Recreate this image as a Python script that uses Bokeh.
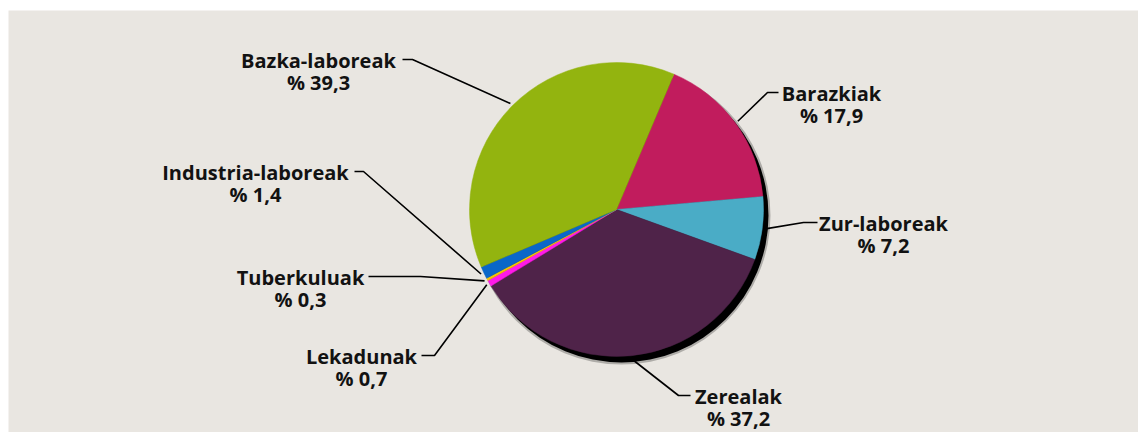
import numpy as np
from bokeh.plotting import figure
from bokeh.models import Range1d
from bokeh.core.properties import value
from bokeh.embed import file_html
from bokeh.resources import INLINE

# ---- data (clockwise order starting at the top-right boundary) ----
categories = ["Barazkiak", "Zur-laboreak", "Zerealak", "Lekadunak",
              "Tuberkuluak", "Industria-laboreak", "Bazka-laboreak"]
values = [17.9, 7.2, 37.2, 0.7, 0.3, 1.4, 39.3]
pct_labels = ["% 17,9", "% 7,2", "% 37,2", "% 0,7", "% 0,3", "% 1,4", "% 39,3"]
colors = ["#c11c5d", "#4aacc6", "#4f2349", "#ff1ae8", "#f7c400", "#0a67c9", "#93b40f"]

# ---- layout (screen-pixel coordinates; data y = -screen y) ----
CX, CY, R = 616, -209, 147
START_DEG = 67.0
label_cx = [831, 883, 738, 361, 300, 255, 318]
label_base = [93, 223, 396, 356, 277, 172, 60]
elbow_x = [767, 803, 678, 434, 420, 363, 412]
tail_x = [778, 817, 690, 421, 368, 354, 402]
LINE_GAP = 22

vals = np.array(values, dtype=float)
total = vals.sum()
cum = np.cumsum(vals) / total * 2 * np.pi
start0 = np.deg2rad(START_DEG)
ang_hi = start0 - np.concatenate([[0], cum[:-1]])
ang_lo = start0 - cum
mid = (ang_hi + ang_lo) / 2

p = figure(width=1138, height=432, x_range=Range1d(8, 1138), y_range=Range1d(-432, -10),
           output_backend="svg", toolbar_location=None,
           min_border_left=8, min_border_right=0, min_border_bottom=0, min_border_top=10)
p.background_fill_color = "#e9e6e1"
p.border_fill_color = "white"
p.outline_line_color = None
p.axis.visible = False
p.grid.visible = False

# shadow
p.circle(x=[CX + 5], y=[CY - 6], radius=R + 2, fill_color="black", fill_alpha=0.25, line_color=None)
p.circle(x=[CX + 5], y=[CY - 6], radius=R, fill_color="black", line_color=None)

# slices
p.wedge(x=CX, y=CY, radius=R, start_angle=list(ang_lo), end_angle=list(ang_hi),
        direction="anticlock", fill_color=colors, line_color=colors, line_width=0.5)

# leader lines
xs, ys = [], []
for i in range(len(values)):
    ex = CX + (R + 3) * np.cos(mid[i])
    ey = CY + (R + 3) * np.sin(mid[i])
    yb = -(label_base[i] - 1)
    xs.append([ex, elbow_x[i], tail_x[i]])
    ys.append([ey, yb, yb])
p.multi_line(xs=xs, ys=ys, line_color="black", line_width=1.6)

font = value("Open Sans")
p.text(x=label_cx, y=[-b for b in label_base], text=categories, text_align="center",
       text_baseline="alphabetic", text_font=font, text_font_style="bold",
       text_font_size="20px", text_color="#121212")
p.text(x=label_cx, y=[-(b + LINE_GAP) for b in label_base], text=pct_labels, text_align="center",
       text_baseline="alphabetic", text_font=font, text_font_style="bold",
       text_font_size="20px", text_color="#121212")

open("out.html", "w").write(file_html(p, INLINE))
